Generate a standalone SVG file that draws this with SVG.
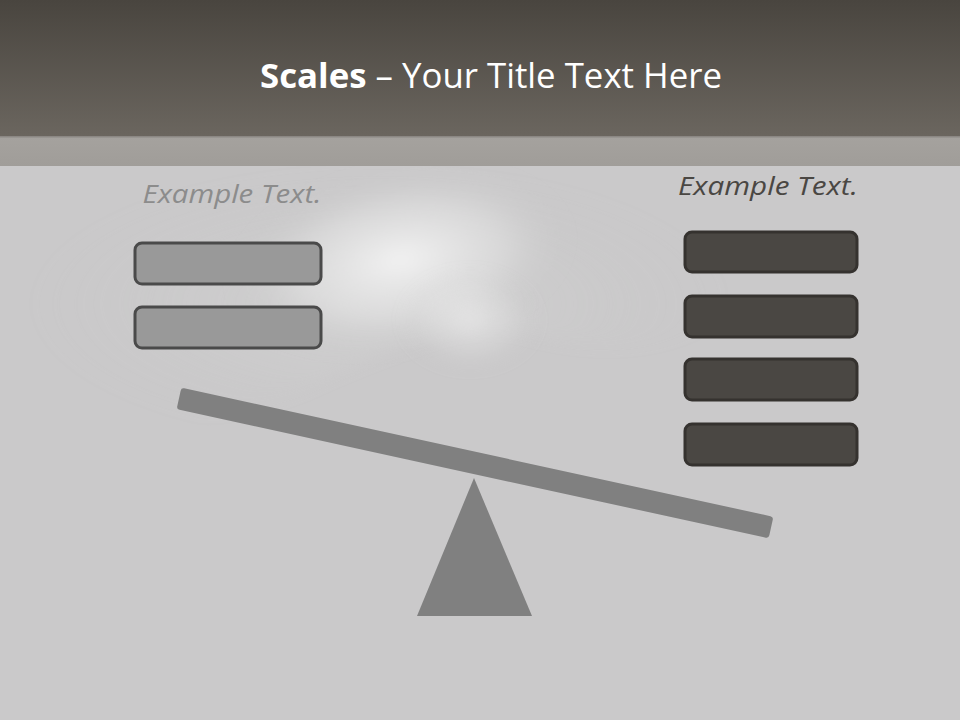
<svg xmlns="http://www.w3.org/2000/svg" width="960" height="720" viewBox="0 0 960 720">
  <defs>
    <linearGradient id="hdr" x1="0" y1="0" x2="0" y2="1">
      <stop offset="0" stop-color="#49453f"/>
      <stop offset="1" stop-color="#6b665f"/>
    </linearGradient>
    <linearGradient id="band" x1="0" y1="0" x2="0" y2="1">
      <stop offset="0" stop-color="#a5a29e"/>
      <stop offset="1" stop-color="#a09d99"/>
    </linearGradient>
    <radialGradient id="wisp" cx="0.5" cy="0.5" r="0.5">
      <stop offset="0" stop-color="#f4f4f4" stop-opacity="0.95"/>
      <stop offset="0.6" stop-color="#e6e6e6" stop-opacity="0.5"/>
      <stop offset="1" stop-color="#cacaca" stop-opacity="0"/>
    </radialGradient>
    <radialGradient id="glow" cx="0.5" cy="0.5" r="0.5">
      <stop offset="0" stop-color="#d8d8d8" stop-opacity="0.8"/>
      <stop offset="1" stop-color="#cacaca" stop-opacity="0"/>
    </radialGradient>
    <filter id="blur" x="-20%" y="-20%" width="140%" height="140%">
      <feGaussianBlur stdDeviation="8"/>
    </filter>
  </defs>
  <style>
    .title { font-family: "Open Sans", "Liberation Sans", sans-serif; font-size: 34px; fill: #ffffff; }
    .lbl { font-family: "Open Sans", "Liberation Sans", sans-serif; font-size: 25px; font-style: italic; }
    .lightbox { fill: #999999; stroke: #4a4a4a; stroke-width: 3; }
    .darkbox { fill: #4a4743; stroke: #35322f; stroke-width: 3; }
    .part { fill: #808080; }
  </style>

  <!-- background -->
  <rect x="0" y="0" width="960" height="720" fill="#cac9ca"/>
  <g id="bg-photo">
    <path d="M30 230 Q60 170 200 168 L560 168 Q640 175 700 210 Q760 260 700 330 Q620 360 520 330 Q470 320 420 340 Q360 360 300 390 Q200 430 30 440 Z" fill="url(#glow)" filter="url(#blur)" opacity="0.7"/>
    <ellipse cx="400" cy="260" rx="170" ry="90" fill="url(#wisp)" filter="url(#blur)" transform="rotate(-10 400 260)"/>
    <ellipse cx="470" cy="320" rx="70" ry="50" fill="url(#wisp)" opacity="0.6" filter="url(#blur)"/>
  </g>

  <!-- header -->
  <rect x="0" y="0" width="960" height="137" fill="url(#hdr)"/>
  <rect x="0" y="137" width="960" height="29" fill="url(#band)"/>
  <rect x="0" y="136" width="960" height="1.5" fill="#8c8884"/>

  <g id="title">
    <text class="title" x="491" y="88" text-anchor="middle" textLength="462" lengthAdjust="spacingAndGlyphs"><tspan font-weight="bold">Scales</tspan> – Your Title Text Here</text>
  </g>

  <g id="left-label">
    <text class="lbl" x="232" y="203" text-anchor="middle" fill="#8c8c8c" textLength="179" lengthAdjust="spacingAndGlyphs">Example Text.</text>
  </g>
  <g id="right-label">
    <text class="lbl" x="768" y="195" text-anchor="middle" fill="#4a4743" textLength="180" lengthAdjust="spacingAndGlyphs">Example Text.</text>
  </g>

  <g id="left-box-1"><rect class="lightbox" x="135" y="243" width="186" height="41" rx="7"/></g>
  <g id="left-box-2"><rect class="lightbox" x="135" y="307" width="186" height="41" rx="7"/></g>

  <g id="right-box-1"><rect class="darkbox" x="685" y="232" width="172" height="40" rx="7"/></g>
  <g id="right-box-2"><rect class="darkbox" x="685" y="296" width="172" height="41" rx="7"/></g>
  <g id="right-box-3"><rect class="darkbox" x="685" y="359" width="172" height="41" rx="7"/></g>
  <g id="right-box-4"><rect class="darkbox" x="685" y="424" width="172" height="41" rx="7"/></g>

  <g id="fulcrum">
    <polygon class="part" points="474,478 532,616 417,616"/>
  </g>
  <g id="beam">
    <rect class="part" x="172" y="452" width="606" height="22" rx="3" transform="rotate(12.3 475 463)"/>
  </g>
</svg>
